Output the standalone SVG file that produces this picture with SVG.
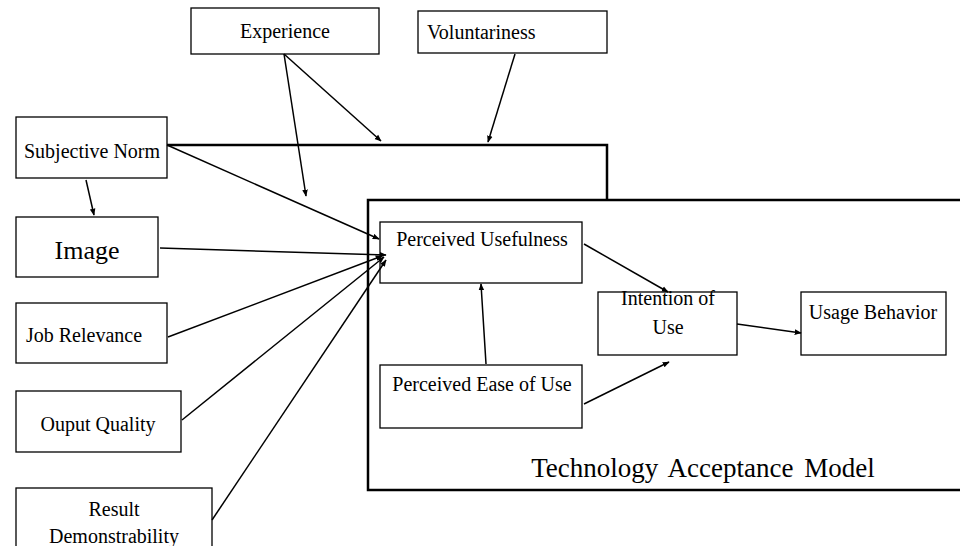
<svg xmlns="http://www.w3.org/2000/svg" width="960" height="546" viewBox="0 0 960 546">
<style>
.box{fill:#fff;stroke:#000;stroke-width:1.3}
.t{font-family:"Liberation Serif","Times New Roman",serif;font-size:20px;fill:#000}
.big{font-size:26px}
.title{font-size:27px;word-spacing:4px}
.ca{stroke:#000;stroke-width:1.5;fill:none;marker-end:url(#ah)}
</style>
<defs>
<marker id="ah" viewBox="0 0 10 10" refX="9" refY="5" markerWidth="7" markerHeight="7" markerUnits="userSpaceOnUse" orient="auto">
<path d="M0,1 L10,5 L0,9 Z" fill="#000"/>
</marker>
</defs>
<rect width="960" height="546" fill="#fff"/>
<g id="moderator-frame">
<path d="M167,145 H607 V200" fill="none" stroke="#000" stroke-width="2.5"/>
</g>
<g id="tam">
<rect x="368" y="200" width="600" height="290" fill="none" stroke="#000" stroke-width="2.5"/>
<text class="t title" x="703" y="477" text-anchor="middle">Technology Acceptance Model</text>
</g>
<g id="experience"><rect class="box" x="191" y="8" width="188" height="46"/><text class="t" x="285" y="38" text-anchor="middle">Experience</text></g>
<g id="voluntariness"><rect class="box" x="418" y="11" width="189" height="42"/><text class="t" x="427" y="39">Voluntariness</text></g>
<g id="subjective-norm"><rect class="box" x="16" y="117" width="151" height="61"/><text class="t" x="92" y="158" text-anchor="middle">Subjective Norm</text></g>
<g id="image"><rect class="box" x="16" y="217" width="142" height="60"/><text class="t big" x="87" y="259" text-anchor="middle">Image</text></g>
<g id="job-relevance"><rect class="box" x="16" y="303" width="151" height="60"/><text class="t" x="84" y="342" text-anchor="middle">Job Relevance</text></g>
<g id="output-quality"><rect class="box" x="16" y="391" width="165" height="61"/><text class="t" x="98" y="431" text-anchor="middle">Ouput Quality</text></g>
<g id="result-demonstrability"><rect class="box" x="16" y="488" width="196" height="70"/><text class="t" x="114" y="516" text-anchor="middle">Result</text><text class="t" x="114" y="543" text-anchor="middle">Demonstrability</text></g>
<g id="perceived-usefulness"><rect class="box" x="380" y="222" width="202" height="61"/><text class="t" x="482" y="246" text-anchor="middle">Perceived Usefulness</text></g>
<g id="perceived-ease"><rect class="box" x="380" y="365" width="202" height="63"/><text class="t" x="482" y="391" text-anchor="middle">Perceived Ease of Use</text></g>
<g id="intention"><rect class="box" x="598" y="292" width="139" height="63"/><text class="t" x="668" y="305" text-anchor="middle">Intention of</text><text class="t" x="668" y="334" text-anchor="middle">Use</text></g>
<g id="usage-behavior"><rect class="box" x="801" y="292" width="145" height="63"/><text class="t" x="873" y="319" text-anchor="middle">Usage Behavior</text></g>
<g id="connectors">
<line class="ca" x1="284" y1="54" x2="381" y2="141"/>
<line class="ca" x1="284" y1="54" x2="306" y2="196"/>
<line class="ca" x1="515" y1="54" x2="488" y2="142"/>
<line class="ca" x1="167" y1="145" x2="379" y2="239"/>
<line class="ca" x1="86" y1="180" x2="94" y2="215"/>
<line class="ca" x1="160" y1="248" x2="386" y2="255"/>
<line class="ca" x1="168" y1="337" x2="382" y2="256"/>
<line class="ca" x1="182" y1="420" x2="384" y2="257"/>
<line class="ca" x1="212" y1="520" x2="386" y2="260"/>
<line class="ca" x1="584" y1="244" x2="668" y2="292"/>
<line class="ca" x1="486" y1="364" x2="481" y2="284"/>
<line class="ca" x1="584" y1="404" x2="669" y2="362"/>
<line class="ca" x1="737" y1="324" x2="801" y2="333"/>
</g>
</svg>
